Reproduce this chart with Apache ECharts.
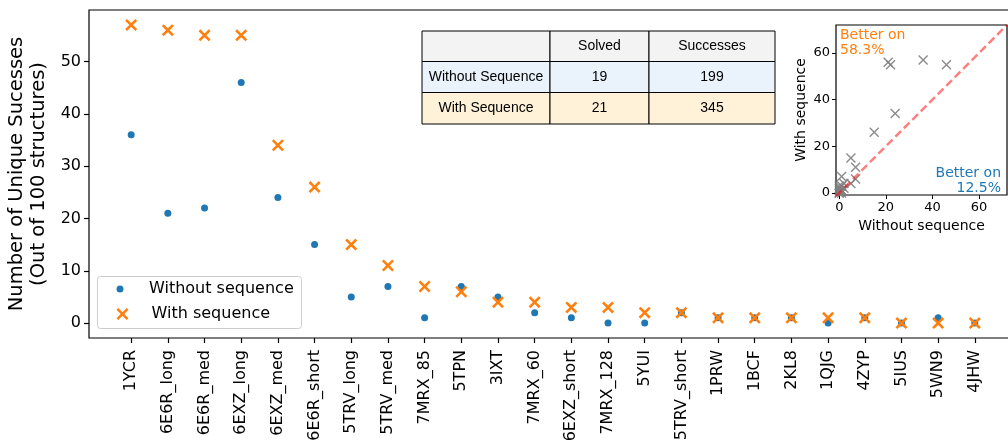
<!DOCTYPE html>
<html><head><meta charset="utf-8">
<script src="https://cdn.jsdelivr.net/npm/echarts@6/dist/echarts.min.js"></script>
<style>html,body{margin:0;padding:0;background:#fff}#c{width:1008px;height:440px}</style>
</head><body><div id="c"></div>
<script>
const categories = ['1YCR','6E6R_long','6E6R_med','6EXZ_long','6EXZ_med','6E6R_short','5TRV_long','5TRV_med','7MRX_85','5TPN','3IXT','7MRX_60','6EXZ_short','7MRX_128','5YUI','5TRV_short','1PRW','1BCF','2KL8','1QJG','4ZYP','5IUS','5WN9','4JHW'];
const withoutSeq = [36,21,22,46,24,15,5,7,1,7,5,2,1,0,0,2,1,1,1,0,1,0,1,0];
const withSeq    = [57,56,55,55,34,26,15,11,7,6,4,4,3,3,2,2,1,1,1,1,1,0,0,0];
const yTicks = [0,10,20,30,40,50];
const insetTicks = [0,20,40,60];
const seriesNames = ['Without sequence','With sequence'];
const tableRowLabels = ['Without Sequence','With Sequence'];
const tableColLabels = ['Solved','Successes'];
const insetXRange = [-1.4, 72];
const insetYRange = [-0.9, 72];

const FONT = 'DejaVu Sans';
const BLUE = '#1f77b4', ORANGE = '#ff7f0e';
const X_THICK = 'path://M0,1.5L1.5,0L5,3.5L8.5,0L10,1.5L6.5,5L10,8.5L8.5,10L5,6.5L1.5,10L0,8.5L3.5,5Z';
const X_THIN = 'path://M0,1L1,0L5,4L9,0L10,1L6,5L10,9L9,10L5,6L1,10L0,9L4,5Z';

const n = categories.length;
const solved = [withoutSeq.filter(v => v > 0).length, withSeq.filter(v => v > 0).length];
const successes = [withoutSeq.reduce((a,b)=>a+b,0), withSeq.reduce((a,b)=>a+b,0)];
let betterWith = 0, betterWithout = 0;
for (let i = 0; i < n; i++) { if (withSeq[i] > withoutSeq[i]) betterWith++; else if (withSeq[i] < withoutSeq[i]) betterWithout++; }
const pctWith = (betterWith / n * 100).toFixed(1) + '%';
const pctWithout = (betterWithout / n * 100).toFixed(1) + '%';

// table graphic
const colX = [422, 550, 649, 775];
const rowY = [31, 61.5, 92.5, 124];
const rowFill = ['#f3f3f3', '#eaf2fc', '#fff2d9'];
const tableEls = [];
const cellText = [
  ['', tableColLabels[0], tableColLabels[1]],
  [tableRowLabels[0], String(solved[0]), String(successes[0])],
  [tableRowLabels[1], String(solved[1]), String(successes[1])]
];
for (let r = 0; r < 3; r++) {
  for (let c = 0; c < 3; c++) {
    tableEls.push({
      type: 'rect', z: 10,
      shape: {x: colX[c], y: rowY[r], width: colX[c+1]-colX[c], height: rowY[r+1]-rowY[r]},
      style: {fill: rowFill[r], stroke: '#000', lineWidth: 1}
    });
    if (cellText[r][c]) tableEls.push({
      type: 'text', z: 11,
      x: (colX[c]+colX[c+1])/2, y: (rowY[r]+rowY[r+1])/2,
      style: {text: cellText[r][c], fill: '#000', font: '14px "Liberation Sans", Arial, sans-serif', textAlign: 'center', textVerticalAlign: 'middle'}
    });
  }
}

const chart = echarts.init(document.getElementById('c'), null, {renderer: 'canvas'});
const tickLabel = {color: '#000', fontFamily: FONT};
chart.setOption({
  animation: false,
  backgroundColor: '#fff',
  grid: [
    {left: 89, top: 10, width: 928, height: 328, show: true, borderColor: '#000', borderWidth: 1.2, backgroundColor: 'transparent', containLabel: false, outerBoundsMode: 'none'},
    {left: 836, top: 25, width: 171, height: 170, show: true, borderColor: '#000', borderWidth: 1.2, backgroundColor: '#fff', containLabel: false, outerBoundsMode: 'none', z: 5}
  ],
  xAxis: [
    {type: 'value', gridIndex: 0, min: -1.15, max: n - 1 + 1.15,
     axisLine: {show: false, onZero: false}, splitLine: {show: false},
     axisTick: {show: true, length: 5, customValues: categories.map((_, i) => i), lineStyle: {color: '#000', width: 1.2}},
     axisLabel: {customValues: categories.map((_, i) => i), formatter: v => categories[Math.round(v)] || '', rotate: 90, margin: 12, fontSize: 16, ...tickLabel}},
    {type: 'value', gridIndex: 1, min: insetXRange[0], max: insetXRange[1],
     name: 'Without sequence', nameLocation: 'middle', nameGap: 24, nameTextStyle: {fontSize: 14, color: '#000', fontFamily: FONT},
     axisLine: {show: false, onZero: false}, splitLine: {show: false},
     axisTick: {show: true, length: 4, customValues: insetTicks, lineStyle: {color: '#000', width: 1}},
     axisLabel: {customValues: insetTicks, margin: 6, fontSize: 13, ...tickLabel}}
  ],
  yAxis: [
    {type: 'value', gridIndex: 0, min: -2.85, max: 59.85,
     name: 'Number of Unique Sucesses\n(Out of 100 structures)', nameLocation: 'middle', nameGap: 37,
     nameTextStyle: {fontSize: 19.5, lineHeight: 22, color: '#000', fontFamily: FONT},
     axisLine: {show: false, onZero: false}, splitLine: {show: false},
     axisTick: {show: true, length: 5, customValues: yTicks, lineStyle: {color: '#000', width: 1.2}},
     axisLabel: {customValues: yTicks, margin: 8, fontSize: 16, ...tickLabel}},
    {type: 'value', gridIndex: 1, min: insetYRange[0], max: insetYRange[1],
     name: 'With sequence', nameLocation: 'middle', nameGap: 28, nameTextStyle: {fontSize: 14, color: '#000', fontFamily: FONT},
     axisLine: {show: false, onZero: false}, splitLine: {show: false},
     axisTick: {show: true, length: 4, customValues: insetTicks, lineStyle: {color: '#000', width: 1}},
     axisLabel: {customValues: insetTicks, margin: 6, fontSize: 13, ...tickLabel}}
  ],
  legend: [
    {data: [seriesNames[0]], left: 116.5, top: 279, orient: 'vertical', itemWidth: 48, itemHeight: 7, padding: 0, selectedMode: false,
     textStyle: {fontSize: 16, fontFamily: FONT, color: '#000', lineHeight: 20}},
    {data: [seriesNames[1]], left: 116.5, top: 304, orient: 'vertical', itemWidth: 48, itemHeight: 12, padding: 0, selectedMode: false,
     textStyle: {fontSize: 16, fontFamily: FONT, color: '#000', lineHeight: 20}}
  ],
  graphic: [
    {type: 'rect', z: 1, shape: {x: 97.5, y: 276.5, width: 204, height: 52, r: 3}, style: {fill: 'rgba(255,255,255,0.8)', stroke: '#cccccc', lineWidth: 1}},
    ...tableEls,
    {type: 'text', z: 20, x: 840, y: 28, style: {text: 'Better on\n' + pctWith, fill: ORANGE, font: '14px "DejaVu Sans"', lineHeight: 15, textAlign: 'left', textVerticalAlign: 'top'}},
    {type: 'text', z: 20, x: 1001, y: 196, style: {text: 'Better on\n' + pctWithout, fill: BLUE, font: '14px "DejaVu Sans"', lineHeight: 15, textAlign: 'right', textVerticalAlign: 'bottom'}}
  ],
  series: [
    {name: seriesNames[0], type: 'scatter', xAxisIndex: 0, yAxisIndex: 0, symbol: 'circle', symbolSize: 7, z: 2,
     itemStyle: {color: BLUE, opacity: 1}, data: withoutSeq.map((v, i) => [i, v])},
    {name: seriesNames[1], type: 'scatter', xAxisIndex: 0, yAxisIndex: 0, symbol: X_THICK, symbolSize: 12, z: 3,
     itemStyle: {color: ORANGE, opacity: 1}, data: withSeq.map((v, i) => [i, v])},
    {name: 'inset', type: 'scatter', xAxisIndex: 1, yAxisIndex: 1, symbol: X_THIN, symbolSize: 10, z: 6,
     itemStyle: {color: '#808080', opacity: 0.9}, data: withoutSeq.map((v, i) => [v, withSeq[i]])},
    {name: 'diag', type: 'line', xAxisIndex: 1, yAxisIndex: 1, z: 7, clip: true, symbol: 'none',
     lineStyle: {color: 'rgba(255,0,0,0.5)', width: 2.5, type: [8, 4]},
     data: [[insetXRange[0], insetXRange[0]], [insetXRange[1], insetXRange[1]]]}
  ]
});
</script></body></html>
